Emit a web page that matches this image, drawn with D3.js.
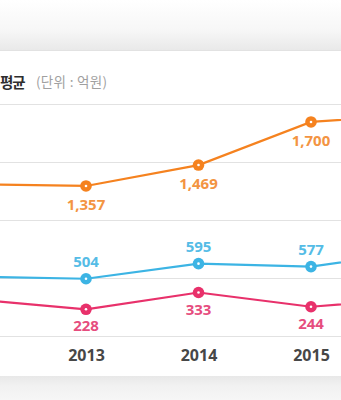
<!DOCTYPE html>
<html>
<head>
<meta charset="utf-8">
<script src="https://cdn.jsdelivr.net/npm/d3@7"></script>
<style>
  html, body { margin: 0; padding: 0; background: #fff; }
  body { width: 341px; height: 400px; overflow: hidden; }
  svg { display: block; font-family: "Noto Sans CJK KR", "Noto Sans", sans-serif; }
</style>
</head>
<body>
<div id="chart"></div>
<script>
// years (2012 and 2016 fall outside the visible crop)
var years = ["2012", "2013", "2014", "2015", "2016"];

// series values in 억원
var orangeValues = [1366, 1357, 1469, 1700, 1740];
var blueValues   = [517, 504, 595, 577, 671];
var pinkValues   = [291, 228, 333, 244, 300];

// years that carry labels inside the crop
var labelYears = ["2013", "2014", "2015"];

var colors = {
    orange: "#f5821f",
    blue: "#3cb4e4",
    pink: "#e8316b"
};
var labelColors = {
    orange: "#f39442",
    blue: "#55bce6",
    pink: "#e64d7e"
};

var width = 341, height = 400;

var svg = d3.select("#chart")
    .append("svg")
    .attr("width", width)
    .attr("height", height);

var defs = svg.append("defs");
var gTop = defs.append("linearGradient").attr("id", "topShade")
    .attr("x1", 0).attr("y1", 0).attr("x2", 0).attr("y2", 1);
gTop.append("stop").attr("offset", "0%").attr("stop-color", "#ffffff");
gTop.append("stop").attr("offset", "60%").attr("stop-color", "#f7f7f7");
gTop.append("stop").attr("offset", "100%").attr("stop-color", "#e9e9e9");
var gBot = defs.append("linearGradient").attr("id", "botShade")
    .attr("x1", 0).attr("y1", 0).attr("x2", 0).attr("y2", 1);
gBot.append("stop").attr("offset", "0%").attr("stop-color", "#e8e8e8");
gBot.append("stop").attr("offset", "40%").attr("stop-color", "#f1f1f1");
gBot.append("stop").attr("offset", "100%").attr("stop-color", "#f6f6f6");

// page background and card
svg.append("rect").attr("x", 0).attr("y", 0).attr("width", width).attr("height", 50)
    .attr("fill", "url(#topShade)");
svg.append("rect").attr("x", 0).attr("y", 376).attr("width", width).attr("height", 24)
    .attr("fill", "url(#botShade)");
svg.append("line").attr("x1", 0).attr("x2", width).attr("y1", 50.5).attr("y2", 50.5)
    .attr("stroke", "#e2e2e2");

// title (left part cut off by the crop)
svg.append("text")
    .attr("x", 0).attr("y", 87.5)
    .attr("font-size", 14.5).attr("font-weight", 700)
    .attr("letter-spacing", -1)
    .attr("fill", "#2e2e2e")
    .text("평균");
svg.append("text")
    .attr("x", 36).attr("y", 86.5)
    .attr("font-size", 13.5)
    .attr("letter-spacing", 0.3)
    .attr("fill", "#a0a0a0")
    .text("(단위 : 억원)");

// x scale
var x = d3.scalePoint()
    .domain(years)
    .range([-26.5, 423.5]);

// horizontal grid
var grid = d3.scaleLinear().domain([0, 4]).range([104, 336]);
svg.append("g")
    .selectAll("line")
    .data(d3.range(5))
    .enter()
    .append("line")
    .attr("x1", 0).attr("x2", width)
    .attr("y1", function(d) { return Math.round(grid(d)) + 0.5; })
    .attr("y2", function(d) { return Math.round(grid(d)) + 0.5; })
    .attr("stroke", "#e2e2e2");

// x axis
var xAxis = svg.append("g")
    .attr("transform", "translate(0,336)")
    .call(d3.axisBottom(x).tickValues(labelYears).tickSize(0).tickPadding(14));
xAxis.select(".domain").remove();
xAxis.selectAll("text")
    .attr("font-family", "Noto Sans, sans-serif")
    .attr("font-size", 16)
    .attr("font-weight", 700)
    .attr("fill", "#474747");

// each series sits in its own band
var series = [
    {key: "orange", values: orangeValues,
     y: d3.scaleLinear().domain([1300, 1800]).range([196.6, 103.3]), dy: 24},
    {key: "blue", values: blueValues,
     y: d3.scaleLinear().domain([400, 700]).range([296.0, 246.2]), dy: -12},
    {key: "pink", values: pinkValues,
     y: d3.scaleLinear().domain([200, 350]).range([313.8, 289.8]), dy: 22}
];

series.forEach(function(s) {
    var pts = years.map(function(yr, i) { return {year: yr, value: s.values[i]}; });
    var line = d3.line()
        .x(function(d) { return x(d.year); })
        .y(function(d) { return s.y(d.value); });

    var g = svg.append("g");
    g.append("path")
        .datum(pts)
        .attr("d", line)
        .attr("fill", "none")
        .attr("stroke", colors[s.key])
        .attr("stroke-width", 2.2);

    var shown = pts.filter(function(d) { return labelYears.indexOf(d.year) >= 0; });

    g.selectAll("circle.dot")
        .data(pts)
        .enter()
        .append("circle")
        .attr("class", "dot")
        .attr("cx", function(d) { return x(d.year); })
        .attr("cy", function(d) { return s.y(d.value); })
        .attr("r", 5.8)
        .attr("fill", colors[s.key]);
    g.selectAll("circle.hole")
        .data(pts)
        .enter()
        .append("circle")
        .attr("class", "hole")
        .attr("cx", function(d) { return x(d.year); })
        .attr("cy", function(d) { return s.y(d.value); })
        .attr("r", 1.3)
        .attr("fill", "#fff");

    g.selectAll("text")
        .data(shown)
        .enter()
        .append("text")
        .attr("x", function(d) { return x(d.year); })
        .attr("y", function(d) { return s.y(d.value) + s.dy; })
        .attr("text-anchor", "middle")
        .attr("font-family", "Noto Sans, sans-serif")
        .attr("font-size", 15)
        .attr("font-weight", 700)
        .attr("fill", labelColors[s.key])
        .text(function(d) { return d3.format(",")(d.value); });
});
</script>
</body>
</html>
